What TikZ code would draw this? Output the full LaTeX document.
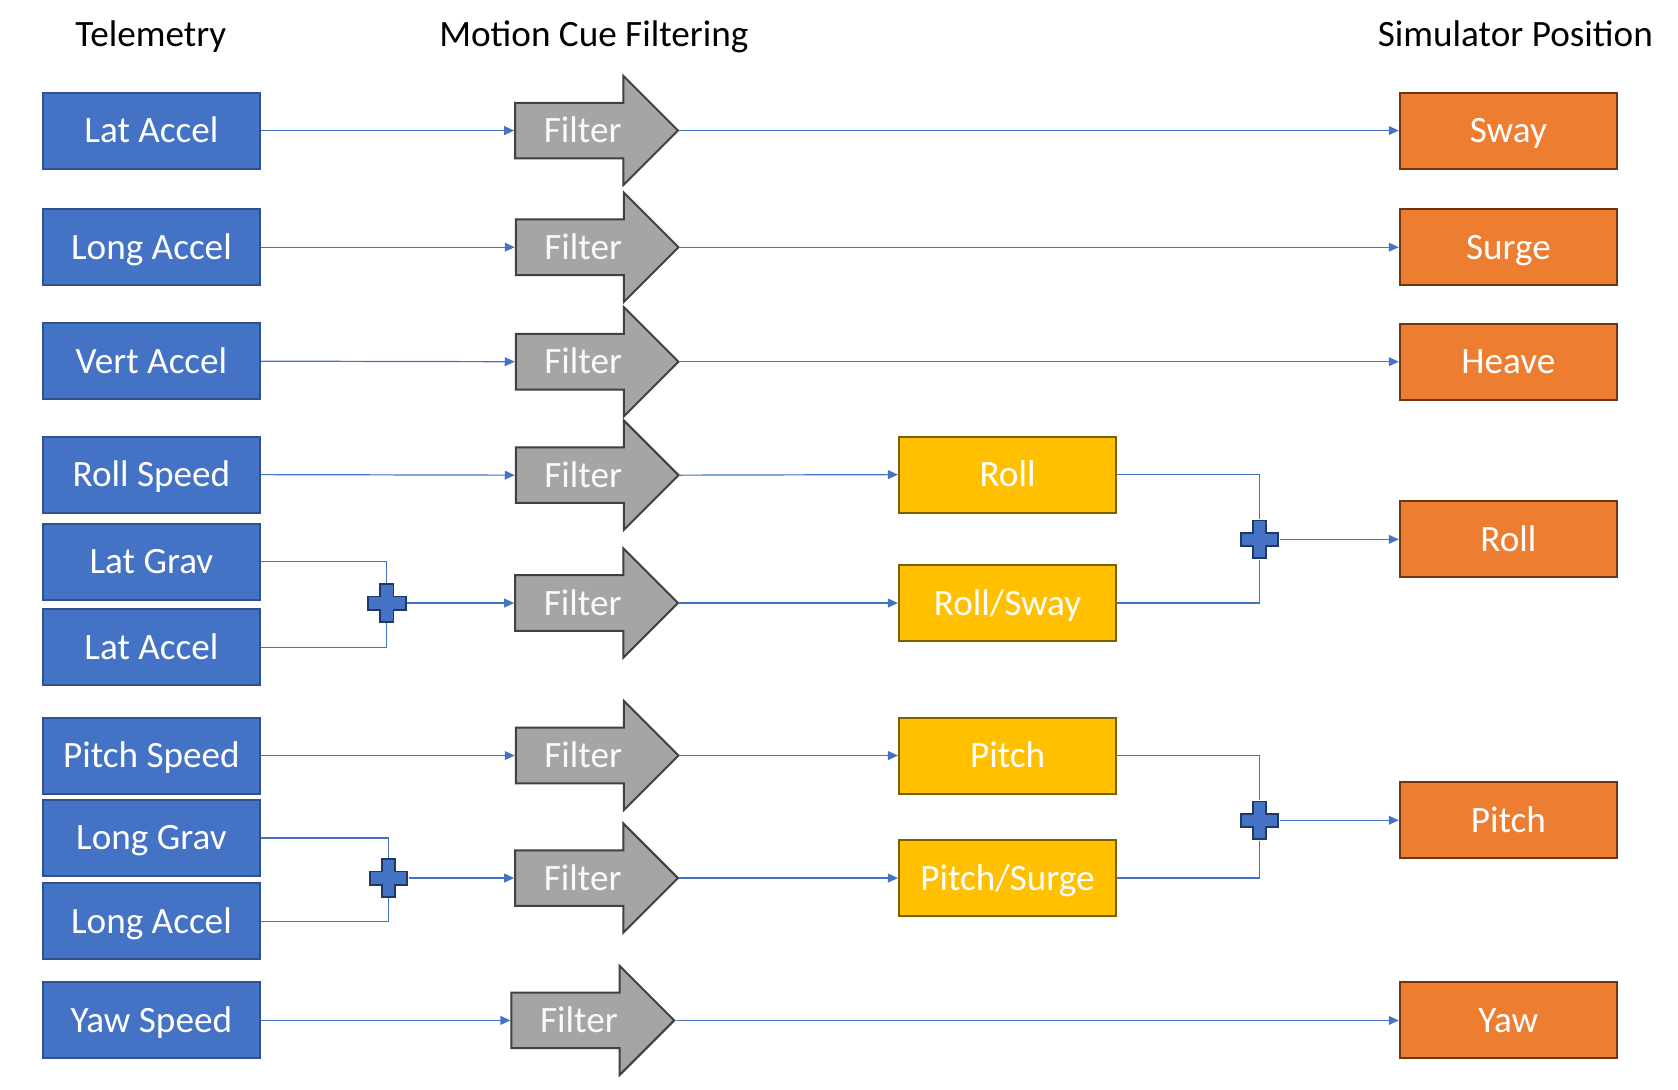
\documentclass[tikz,border=0pt]{standalone}
\usepackage{fontspec}
\setmainfont{Carlito}
\usepackage{xcolor}
\usetikzlibrary{positioning,shapes.arrows,arrows.meta}

\definecolor{telblue}{HTML}{4472C4}
\definecolor{telborder}{HTML}{2F528F}
\definecolor{filtgray}{HTML}{A5A5A5}
\definecolor{filtborder}{HTML}{404040}
\definecolor{mixyellow}{HTML}{FFC000}
\definecolor{mixborder}{HTML}{7F6000}
\definecolor{posorange}{HTML}{ED7D31}
\definecolor{posborder}{HTML}{6E3510}
\definecolor{sumborder}{HTML}{203864}

\tikzset{
  box/.style={draw, line width=1pt, minimum width=108.6pt, minimum height=38pt, inner sep=0pt,
    text=white, text height=12pt, text depth=0pt},
  telem/.style={box, fill=telblue, draw=telborder},
  mix/.style={box, fill=mixyellow, draw=mixborder},
  simpos/.style={box, fill=posorange, draw=posborder},
  title/.style={anchor=base},
  filter/.style={single arrow, draw=filtborder, fill=filtgray, line width=1pt, text=white!95!gray,
    minimum height=81.4pt, single arrow head extend=13.4pt, inner ysep=0pt,
    text height=19.4pt, text depth=7.4pt, anchor=tail},
  sum/.style={minimum size=20pt, inner sep=0pt,
    path picture={\filldraw[fill=telblue, draw=sumborder, line width=0.9pt]
      ([shift={(-3.3pt,-9.4pt)}]path picture bounding box.center) -- ++(6.6pt,0pt) -- ++(0pt,6.1pt)
      -- ++(6.1pt,0pt) -- ++(0pt,6.6pt) -- ++(-6.1pt,0pt) -- ++(0pt,6.1pt) -- ++(-6.6pt,0pt)
      -- ++(0pt,-6.1pt) -- ++(-6.1pt,0pt) -- ++(0pt,-6.6pt) -- ++(6.1pt,0pt) -- cycle;}},
  link/.style={draw=telblue, line width=0.6pt},
  feed/.style={link, -{Triangle[length=5pt,width=4.4pt]}}
}

\begin{document}
\begin{tikzpicture}[x=0.5352pt, y=-0.5352pt, font=\fontsize{18.6}{22}\selectfont]
  \useasboundingbox (0,0) rectangle (1568,1018);

  % column titles
  \node[title] (ttel) at (141,43) {Telemetry};
  \node[title] (tfilt) at (555,43) {Motion Cue Filtering};
  \node[title] (tsim) at (1416,43) {Simulator Position};

  % telemetry inputs
  \node[telem] (latacc) at (141.5,122) {Lat Accel};
  \node[telem] (lonacc) at (141.5,231) {Long Accel};
  \node[telem] (vertacc) at (141.5,337.5) {Vert Accel};
  \node[telem] (rollspd) at (141.5,443.5) {Roll Speed};
  \node[telem] (latgrav) at (141.5,525) {Lat Grav};
  \node[telem] (latacctwo) at (141.5,605) {Lat Accel};
  \node[telem] (pitchspd) at (141.5,706) {Pitch Speed};
  \node[telem] (longrav) at (141.5,783) {Long Grav};
  \node[telem] (lonacctwo) at (141.5,861) {Long Accel};
  \node[telem] (yawspd) at (141.5,953.5) {Yaw Speed};

  % summing points on the input side
  \node[sum] (sumlat) at (361.5,563.5) {};
  \node[sum] (sumlon) at (363,820.5) {};

  % filters
  \node[filter] (fsway) at (480.5,122) {Filter};
  \node[filter] (fsurge) at (481,231) {Filter};
  \node[filter] (fheave) at (481,338) {Filter};
  \node[filter] (froll) at (481,444) {Filter};
  \node[filter] (frollsway) at (480.5,563.5) {Filter};
  \node[filter] (fpitch) at (481,706) {Filter};
  \node[filter] (fpitchsurge) at (480.5,820.5) {Filter};
  \node[filter] (fyaw) at (477,953.5) {Filter};

  % intermediate channels
  \node[mix] (rollmix) at (941.5,443.5) {Roll};
  \node[mix] (rollsway) at (941.5,563.5) {Roll/Sway};
  \node[mix] (pitchmix) at (941.5,706) {Pitch};
  \node[mix] (pitchsurge) at (941.5,820.5) {Pitch/Surge};

  % summing points on the output side
  \node[sum] (sumroll) at (1177,504) {};
  \node[sum] (sumpitch) at (1177,766.5) {};

  % simulator positions
  \node[simpos] (sway) at (1409.5,122) {Sway};
  \node[simpos] (surge) at (1409.5,231) {Surge};
  \node[simpos] (heave) at (1409.5,338) {Heave};
  \node[simpos] (posroll) at (1409.5,504) {Roll};
  \node[simpos] (pospitch) at (1409.5,766.5) {Pitch};
  \node[simpos] (yaw) at (1409.5,953.5) {Yaw};

  \draw[feed] (latacc.east) -- (fsway.tail);
  \draw[feed] (lonacc.east) -- (fsurge.tail);
  \draw[feed] (vertacc.east) -- (fheave.tail);
  \draw[feed] (rollspd.east) -- (froll.tail);
  \draw[link] (latgrav.east) -| (sumlat.north);
  \draw[link] (latacctwo.east) -| (sumlat.south);
  \draw[feed] (sumlat.east) -- (frollsway.tail);
  \draw[feed] (pitchspd.east) -- (fpitch.tail);
  \draw[link] (longrav.east) -| (sumlon.north);
  \draw[link] (lonacctwo.east) -| (sumlon.south);
  \draw[feed] (sumlon.east) -- (fpitchsurge.tail);
  \draw[feed] (yawspd.east) -- (fyaw.tail);

  \draw[feed] (fsway.tip) -- (sway.west);
  \draw[feed] (fsurge.tip) -- (surge.west);
  \draw[feed] (fheave.tip) -- (heave.west);
  \draw[feed] (froll.tip) -- (rollmix.west);
  \draw[feed] (frollsway.tip) -- (rollsway.west);
  \draw[feed] (fpitch.tip) -- (pitchmix.west);
  \draw[feed] (fpitchsurge.tip) -- (pitchsurge.west);
  \draw[feed] (fyaw.tip) -- (yaw.west);

  \draw[link] (rollmix.east) -| (sumroll.north);
  \draw[link] (rollsway.east) -| (sumroll.south);
  \draw[feed] (sumroll.east) -- (posroll.west);
  \draw[link] (pitchmix.east) -| (sumpitch.north);
  \draw[link] (pitchsurge.east) -| (sumpitch.south);
  \draw[feed] (sumpitch.east) -- (pospitch.west);
\end{tikzpicture}
\end{document}
